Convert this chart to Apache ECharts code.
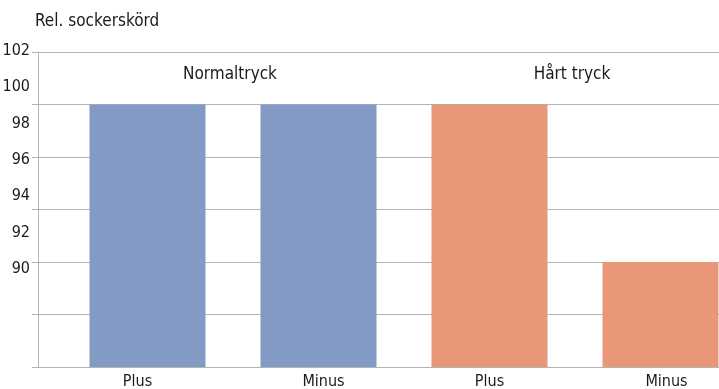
<!DOCTYPE html>
<html>
<head>
<meta charset="utf-8">
<script src="https://cdn.jsdelivr.net/npm/echarts@6/dist/echarts.min.js"></script>
<style>
html,body{margin:0;padding:0;background:#fff;}
#c{width:719px;height:389px;}
</style>
</head>
<body>
<div id="c"></div>
<script>
// ---- data ----
const categories = ['Plus', 'Minus', 'Plus', 'Minus'];
const groups = ['Normaltryck', 'Hårt tryck'];
const groupOfCategory = [0, 0, 1, 1];
const yieldValues = [100, 100, 100, 90];
const yTickLabels = [90, 92, 94, 96, 98, 100, 102];
const yAxisTitle = 'Rel. sockerskörd';

// ---- styling ----
const FONT = '"Liberation Sans Narrow", "DejaVu Sans Condensed", "Liberation Sans", sans-serif';
const groupColors = ['#829AC4', '#E89779'];
const gridColor = '#B3B3B3';
const textColor = '#1A1A1A';
// small horizontal nudges of the category labels (as in the original layout)
const catLabelPadding = [[0, 20, 0, 0], [0, 0, 0, 10], [0, 0, 0, 0], [0, 0, 0, 12]];

const chart = echarts.init(document.getElementById('c'), null, {renderer: 'canvas'});

const option = {
  animation: false,
  backgroundColor: '#fff',
  textStyle: {fontFamily: FONT},
  title: {
    text: yAxisTitle,
    left: 30, top: 8,
    textStyle: {fontFamily: FONT, fontSize: 17, fontWeight: 'normal', color: textColor}
  },
  grid: [
    {left: 38, right: 0, top: 52, bottom: 22, containLabel: false, outerBoundsMode: 'none'},
    {left: 62, width: 684, top: 52, bottom: 22, containLabel: false, outerBoundsMode: 'none'},
    {left: 38, right: 0, top: 51, height: 218, containLabel: false, outerBoundsMode: 'none'}
  ],
  xAxis: [
    {gridIndex: 0, type: 'value', min: 0, max: 1,
     axisLine: {show: true, lineStyle: {color: gridColor, width: 1}},
     axisTick: {show: false}, axisLabel: {show: false}, splitLine: {show: false}},
    {gridIndex: 1, type: 'category',
     data: categories.map((c, i) => ({value: c, textStyle: {padding: catLabelPadding[i]}})),
     axisLine: {show: false}, axisTick: {show: false},
     axisLabel: {show: true, margin: 7, fontFamily: FONT, fontSize: 16, color: textColor}},
    {gridIndex: 2, type: 'value', show: false}
  ],
  yAxis: [
    {gridIndex: 0, type: 'value', min: 0, max: 6, interval: 1,
     axisLine: {show: true, lineStyle: {color: gridColor, width: 1}},
     axisTick: {show: true, inside: false, length: 6, lineStyle: {color: gridColor}},
     axisLabel: {show: false},
     splitLine: {show: true, lineStyle: {color: gridColor, width: 1}}},
    {gridIndex: 1, type: 'value', min: 250 / 3, max: 310 / 3, show: false,
     splitLine: {show: false}},
    {gridIndex: 2, type: 'value', min: yTickLabels[0], max: yTickLabels[yTickLabels.length - 1], interval: 2,
     axisLine: {show: false}, axisTick: {show: false}, splitLine: {show: false},
     axisLabel: {show: true, margin: 8, fontFamily: FONT, fontSize: 16, color: textColor}}
  ],
  series: [{
    type: 'bar',
    xAxisIndex: 1, yAxisIndex: 1,
    barWidth: 116,
    data: yieldValues.map((v, i) => ({value: v, itemStyle: {color: groupColors[groupOfCategory[i]]}})),
    z: 3
  }]
};
chart.setOption(option);

const graphics = groups.map((g, gi) => {
  const idx = groupOfCategory.map((x, i) => x === gi ? i : -1).filter(i => i >= 0);
  const xs = idx.map(i => chart.convertToPixel({xAxisIndex: 1}, i));
  const cx = (Math.min(...xs) + Math.max(...xs)) / 2;
  return {
    type: 'text', x: cx - 3, y: 75,
    style: {text: g, fontFamily: FONT, fontSize: 17, fill: textColor, align: 'center', verticalAlign: 'middle'}
  };
});
chart.setOption({graphic: graphics});
</script>
</body>
</html>
